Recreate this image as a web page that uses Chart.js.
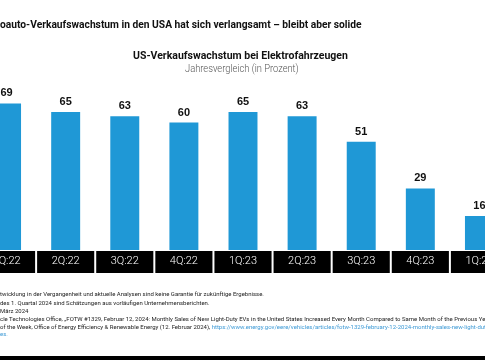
<!DOCTYPE html>
<html>
<head>
<meta charset="utf-8">
<script src="https://cdn.jsdelivr.net/npm/chart.js@4/dist/chart.umd.min.js"></script>
<style>
  html, body { margin: 0; padding: 0; background: #fff; width: 485px; height: 360px; overflow: hidden; position: relative; }
  #c { position: absolute; left: -23px; top: 0; }
  .t { position: absolute; white-space: nowrap; display: inline-block; transform-origin: 0 50%; }
  #main { left: 0; top: 18px; font: 700 10.5px/14px Roboto, sans-serif; color: #111; }
  #ctitle { left: 133px; top: 49px; font: 700 11px/14px Roboto, sans-serif; color: #111; }
  #csub { left: 185px; top: 63px; font: 300 10px/12px Roboto, sans-serif; color: #555; }
  .fn { left: 0; font: 400 6px/8px Roboto, sans-serif; color: #222; }
  .lnk { color: #3d9ad6; }
  #band { position: absolute; left: 0; top: 356px; width: 485px; height: 4px; background: #000; }
</style>
</head>
<body>
<canvas id="c" width="532" height="360"></canvas>
<div class="t" id="main" data-w="362">oauto-Verkaufswachstum in den USA hat sich verlangsamt – bleibt aber solide</div>
<div class="t" id="ctitle" data-w="215">US-Verkaufswachstum bei Elektrofahrzeugen</div>
<div class="t" id="csub" data-w="114">Jahresvergleich (in Prozent)</div>
<div class="t fn" id="f1" style="top:290px" data-w="264">twicklung in der Vergangenheit und aktuelle Analysen sind keine Garantie für zukünftige Ergebnisse.</div>
<div class="t fn" id="f2" style="top:298.5px">des 1. Quartal 2024 sind Schätzungen aus vorläufigen Unternehmensberichten.</div>
<div class="t fn" id="f3" style="top:306.5px">März 2024</div>
<div class="t fn" id="f4" style="top:314.5px">cle Technologies Office, „FOTW #1329, Februar 12, 2024: Monthly Sales of New Light-Duty EVs in the United States Increased Every Month Compared to Same Month of the Previous Year from 2022</div>
<div class="t fn" id="f5" style="top:322.5px">of the Week, Office of Energy Efficiency &amp; Renewable Energy (12. Februar 2024), <span class="lnk">https://www.energy.gov/eere/vehicles/articles/fotw-1329-february-12-2024-monthly-sales-new-light-duty-evs</span></div>
<div class="t fn" id="f6" style="top:330px"><span class="lnk">es.</span></div>
<div id="band"></div>
<script>
const categories = ['1Q:22', '2Q:22', '3Q:22', '4Q:22', '1Q:23', '2Q:23', '3Q:23', '4Q:23', '1Q:24'];
const growth = [69, 65, 63, 60, 65, 63, 51, 29, 16];
const yMin = 0;
const yMax = 80;

const tickBoxes = {
  id: 'tickBoxes',
  beforeDraw(chart) {
    const x = chart.scales.x;
    const ctx = chart.ctx;
    const n = categories.length;
    const step = n > 1 ? x.getPixelForTick(1) - x.getPixelForTick(0) : x.width;
    const top = chart.chartArea.bottom + 1;
    ctx.save();
    ctx.fillStyle = '#000';
    for (let i = 0; i < n; i++) {
      const c = x.getPixelForTick(i);
      ctx.fillRect(c - step / 2 + 1, top, step - 2, 22);
    }
    ctx.restore();
  }
};

const valueLabels = {
  id: 'valueLabels',
  afterDatasetsDraw(chart) {
    const ctx = chart.ctx;
    const meta = chart.getDatasetMeta(0);
    ctx.save();
    ctx.font = 'bold 11px "Liberation Sans", Arial, sans-serif';
    ctx.fillStyle = '#111';
    ctx.textAlign = 'center';
    ctx.textBaseline = 'middle';
    meta.data.forEach((bar, i) => {
      ctx.fillText(String(growth[i]), bar.x, bar.y - 10);
    });
    ctx.restore();
  }
};

new Chart(document.getElementById('c'), {
  type: 'bar',
  data: {
    labels: categories,
    datasets: [{
      data: growth,
      backgroundColor: '#1f98d6',
      borderWidth: 0,
      categoryPercentage: 1,
      barPercentage: 0.49
    }]
  },
  options: {
    responsive: false,
    animation: false,
    devicePixelRatio: 1,
    layout: { padding: { top: 80, left: 0, right: 0, bottom: 0 } },
    plugins: { legend: { display: false }, tooltip: { enabled: false }, title: { display: false } },
    scales: {
      x: {
        grid: { display: false, drawTicks: false },
        border: { display: false },
        ticks: {
          color: '#fff',
          font: { family: 'Roboto', size: 11, weight: 300 },
          padding: 5,
          maxRotation: 0,
          autoSkip: false
        },
        afterFit(scale) { scale.height = 110; }
      },
      y: {
        display: false,
        min: yMin,
        max: yMax
      }
    }
  },
  plugins: [tickBoxes, valueLabels]
});

function fitTexts() {
  const f1 = document.getElementById('f1');
  let fnScale = 1;
  document.querySelectorAll('[data-w]').forEach(el => {
    const w = el.scrollWidth;
    const s = parseFloat(el.dataset.w) / w;
    el.style.transform = 'scaleX(' + s + ')';
    if (el === f1) fnScale = s;
  });
  document.querySelectorAll('.fn:not([data-w])').forEach(el => {
    el.style.transform = 'scaleX(' + fnScale + ')';
  });
}
if (document.fonts && document.fonts.ready) document.fonts.ready.then(fitTexts); else fitTexts();
fitTexts();
</script>
</body>
</html>
